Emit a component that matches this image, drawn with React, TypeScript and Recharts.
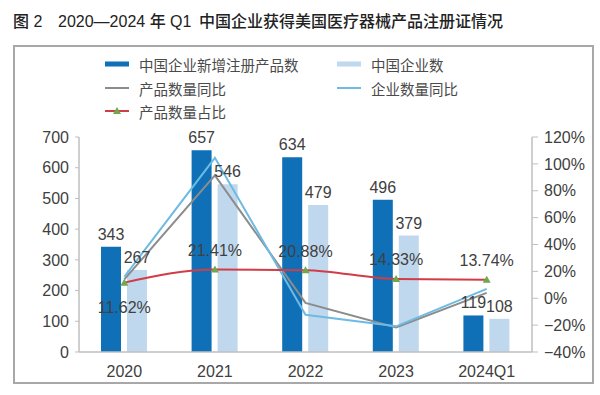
import React from "react"
import {
  ComposedChart,
  Bar,
  Line,
  XAxis,
  YAxis,
  LabelList,
} from "recharts"

const categories = ["2020", "2021", "2022", "2023", "2024Q1"]
const newProducts = [343, 657, 634, 496, 119]
const companies = [267, 546, 479, 379, 108]
const productYoY = [0.14, 0.915, -0.035, -0.218, 0.04]
const companyYoY = [0.16, 1.045, -0.123, -0.209, 0.07]
const productShare = [0.1162, 0.2141, 0.2088, 0.1433, 0.1374]

const leftTicks = [0, 100, 200, 300, 400, 500, 600, 700]
const rightTicks = [-0.4, -0.2, 0, 0.2, 0.4, 0.6, 0.8, 1.0, 1.2]

const FONT = '"Liberation Sans", "Noto Sans CJK SC", sans-serif'
const DARK = "#0f70b7"
const LIGHT = "#c0d8ee"
const GRAY = "#8c8c8c"
const SKY = "#6dbbe2"
const RED = "#d23c47"
const GREEN = "#6fa84c"
const TEXT = "#404040"

const chartData = categories.map((name, i) => ({
  name,
  newProducts: newProducts[i],
  companies: companies[i],
  productYoY: productYoY[i],
  companyYoY: companyYoY[i],
  productShare: productShare[i],
}))

const fmtPct = (v: number) => {
  const n = Math.round(v * 100)
  return n < 0 ? `\u2212${Math.abs(n)}%` : `${n}%`
}

function Triangle(props: any) {
  const { cx, cy } = props
  if (cx == null || cy == null) return null
  return <path d={`M${cx - 4},${cy + 3} L${cx + 4},${cy + 3} L${cx},${cy - 4} Z`} fill={GREEN} />
}

function ShareLabel(props: any) {
  const { x, y, value, index } = props
  const dy = index === 0 ? 25 : -19
  return (
    <text
      x={x}
      y={y + dy}
      textAnchor="middle"
      dominantBaseline="central"
      fontSize={16}
      fill={TEXT}
      fontFamily={FONT}
    >
      {(value * 100).toFixed(2)}%
    </text>
  )
}

const legendItems = [
  { label: "中国企业新增注册产品数", color: DARK, kind: "bar", x: 105, y: 64 },
  { label: "中国企业数", color: LIGHT, kind: "bar", x: 337, y: 64 },
  { label: "产品数量同比", color: GRAY, kind: "line", x: 105, y: 88 },
  { label: "企业数量同比", color: SKY, kind: "line", x: 337, y: 88 },
  { label: "产品数量占比", color: RED, kind: "marker", x: 105, y: 111 },
]

function LegendBlock() {
  return (
    <>
      {legendItems.map((it) => (
        <div
          key={it.label}
          style={{
            position: "absolute",
            left: it.x,
            top: it.y - 11,
            height: 22,
            display: "flex",
            alignItems: "center",
            fontFamily: FONT,
            fontSize: 14.5,
            color: "#4a4a4a",
            whiteSpace: "nowrap",
          }}
        >
          <svg width={24} height={10} style={{ marginRight: 10 }}>
            {it.kind === "bar" ? (
              <rect x={0} y={2.5} width={24} height={5} fill={it.color} />
            ) : (
              <rect x={0} y={4} width={24} height={2} fill={it.color} />
            )}
            {it.kind === "marker" && <path d="M8,8 L16,8 L12,1 Z" fill={GREEN} />}
          </svg>
          {it.label}
        </div>
      ))}
    </>
  )
}

const titleParts = [
  { text: "图 2", x: 13, size: 16 },
  { text: "2020—2024 年 Q1", x: 58, size: 16 },
  { text: "中国企业获得美国医疗器械产品注册证情况", x: 199, size: 16 },
]

const tickStyle = { fontSize: 16, fill: TEXT, fontFamily: FONT }

export default function App() {
  return (
    <div
      style={{
        position: "fixed",
        left: 0,
        top: 0,
        width: 600,
        height: 395,
        background: "#fff",
        overflow: "hidden",
      }}
    >
      {titleParts.map((p) => (
        <div
          key={p.text}
          style={{
            position: "absolute",
            left: p.x,
            top: 22,
            transform: "translateY(-50%)",
            fontFamily: FONT,
            fontSize: p.size,
            fontWeight: 500,
            color: "#222",
            whiteSpace: "pre",
            lineHeight: 1,
          }}
        >
          {p.text}
        </div>
      ))}
      <div
        style={{
          position: "absolute",
          left: 13,
          top: 45,
          width: 577,
          height: 335,
          border: "2px solid #a8a8a8",
        }}
      />
      <LegendBlock />
      <div style={{ position: "absolute", left: 0, top: 0 }}>
        <ComposedChart
          width={600}
          height={395}
          data={chartData}
          margin={{ top: 137, right: 8, bottom: 13, left: 39 }}
          barSize={20}
          barGap={6}
        >
          <XAxis
            dataKey="name"
            height={30}
            tickLine={false}
            axisLine={{ stroke: "#bfbfbf", strokeWidth: 1.5 }}
            tick={tickStyle}
            tickMargin={8}
          />
          <YAxis
            yAxisId="left"
            width={40}
            domain={[0, 700]}
            ticks={leftTicks}
            interval={0}
            axisLine={{ stroke: "#bfbfbf", strokeWidth: 1.5 }}
            tickLine={{ stroke: "#bfbfbf" }}
            tickSize={4}
            tickMargin={6}
            tick={tickStyle}
          />
          <YAxis
            yAxisId="right"
            orientation="right"
            width={60}
            domain={[-0.4, 1.2]}
            ticks={rightTicks}
            interval={0}
            tickFormatter={fmtPct}
            axisLine={{ stroke: "#bfbfbf", strokeWidth: 1.5 }}
            tickLine={{ stroke: "#bfbfbf" }}
            tickSize={6}
            tickMargin={6}
            tick={tickStyle}
          />
          <Bar yAxisId="left" dataKey="newProducts" fill={DARK} isAnimationActive={false}>
            <LabelList dataKey="newProducts" position="top" offset={7} style={tickStyle} />
          </Bar>
          <Bar yAxisId="left" dataKey="companies" fill={LIGHT} isAnimationActive={false}>
            <LabelList dataKey="companies" position="top" offset={7} style={tickStyle} />
          </Bar>
          <Line
            yAxisId="right"
            dataKey="productYoY"
            type="linear"
            stroke={GRAY}
            strokeWidth={2}
            dot={false}
            activeDot={false}
            isAnimationActive={false}
          />
          <Line
            yAxisId="right"
            dataKey="companyYoY"
            type="linear"
            stroke={SKY}
            strokeWidth={2}
            dot={false}
            activeDot={false}
            isAnimationActive={false}
          />
          <Line
            yAxisId="right"
            dataKey="productShare"
            type="monotone"
            stroke={RED}
            strokeWidth={2}
            dot={<Triangle />}
            activeDot={false}
            isAnimationActive={false}
          >
            <LabelList dataKey="productShare" content={<ShareLabel />} />
          </Line>
        </ComposedChart>
      </div>
    </div>
  )
}
